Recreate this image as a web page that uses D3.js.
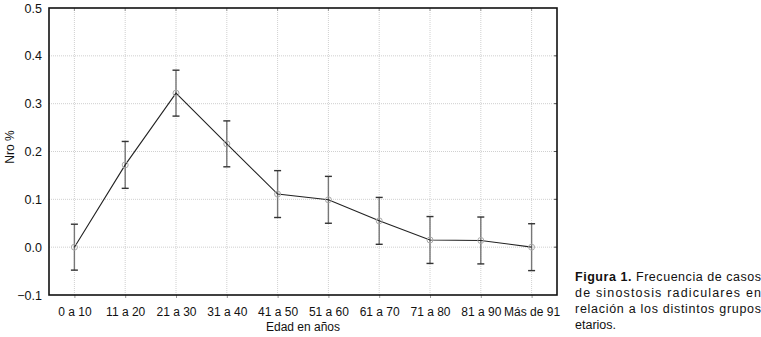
<!DOCTYPE html>
<html>
<head>
<meta charset="utf-8">
<script src="https://cdn.jsdelivr.net/npm/d3@7"></script>
<style>
  body { margin: 0; background: #fff; }
  text { font-family: "Liberation Sans", Arial, sans-serif; fill: #111; }
</style>
</head>
<body>
<div id="chart"></div>
<script>
// age groups and mean frequency with error (+/-)
const groups = ["0 a 10", "11 a 20", "21 a 30", "31 a 40", "41 a 50", "51 a 60", "61 a 70", "71 a 80", "81 a 90", "Más de 91"];
const means = [0.0, 0.172, 0.322, 0.216, 0.111, 0.099, 0.055, 0.015, 0.014, 0.0];
const errs = [0.048, 0.049, 0.048, 0.048, 0.049, 0.049, 0.049, 0.049, 0.049, 0.049];
const yTicks = [-0.1, 0.0, 0.1, 0.2, 0.3, 0.4, 0.5];
const caption = [
    {bold: "Figura 1.", rest: " Frecuencia de casos"},
    {bold: "", rest: "de sinostosis radiculares en"},
    {bold: "", rest: "relación a los distintos grupos"},
    {bold: "", rest: "etarios."}
];

const W = 761, H = 337;
const margin = {top: 8, right: 204, bottom: 42, left: 49};
const width = W - margin.left - margin.right;
const height = H - margin.top - margin.bottom;

const svg = d3.select("#chart").append("svg")
    .attr("width", W)
    .attr("height", H);

const g = svg.append("g")
    .attr("transform", "translate(" + margin.left + "," + margin.top + ")");

const x = d3.scalePoint().domain(groups).range([0, width]).padding(0.5);
const y = d3.scaleLinear().domain([-0.1, 0.5]).range([height, 0]);

// grid
g.append("g").selectAll("line").data(yTicks.slice(1, -1)).enter().append("line")
    .attr("x1", 0).attr("x2", width)
    .attr("y1", d => y(d)).attr("y2", d => y(d))
    .attr("stroke", "#c4c4c4").attr("stroke-width", 0.8).attr("stroke-dasharray", "1,1");
g.append("g").selectAll("line").data(groups).enter().append("line")
    .attr("x1", d => x(d)).attr("x2", d => x(d))
    .attr("y1", 0).attr("y2", height)
    .attr("stroke", "#c4c4c4").attr("stroke-width", 0.8).attr("stroke-dasharray", "1,1");

// axes
const yAxis = g.append("g")
    .call(d3.axisLeft(y).tickValues(yTicks).tickFormat(d3.format(".1f")).tickSize(0).tickPadding(7));
yAxis.select(".domain").remove();
yAxis.selectAll("text").attr("font-size", 12.5).style("fill", "#111");

const xAxis = g.append("g")
    .attr("transform", "translate(0," + height + ")")
    .call(d3.axisBottom(x).tickSize(3).tickPadding(9));
xAxis.select(".domain").remove();
xAxis.selectAll("line").attr("stroke", "#999");
xAxis.selectAll("text").attr("font-size", 12).style("fill", "#111");

// right-side inner ticks
g.append("g").selectAll("line").data(yTicks.slice(1, -1)).enter().append("line")
    .attr("x1", width - 3).attr("x2", width)
    .attr("y1", d => y(d)).attr("y2", d => y(d))
    .attr("stroke", "#555");
// top inner ticks
g.append("g").selectAll("line").data(groups).enter().append("line")
    .attr("x1", d => x(d)).attr("x2", d => x(d))
    .attr("y1", 0).attr("y2", 3)
    .attr("stroke", "#999");

// frame
g.append("rect")
    .attr("width", width).attr("height", height)
    .attr("fill", "none").attr("stroke", "#111").attr("stroke-width", 1.6);

// error bars
const eb = g.append("g").selectAll("g").data(groups).enter().append("g");
eb.append("line")
    .attr("x1", d => x(d)).attr("x2", d => x(d))
    .attr("y1", (d, i) => y(means[i] + errs[i]))
    .attr("y2", (d, i) => y(means[i] - errs[i]))
    .attr("stroke", "#777").attr("stroke-width", 1.4);
eb.append("line")
    .attr("x1", d => x(d) - 3.5).attr("x2", d => x(d) + 3.5)
    .attr("y1", (d, i) => y(means[i] + errs[i]))
    .attr("y2", (d, i) => y(means[i] + errs[i]))
    .attr("stroke", "#333").attr("stroke-width", 1.4);
eb.append("line")
    .attr("x1", d => x(d) - 3.5).attr("x2", d => x(d) + 3.5)
    .attr("y1", (d, i) => y(means[i] - errs[i]))
    .attr("y2", (d, i) => y(means[i] - errs[i]))
    .attr("stroke", "#333").attr("stroke-width", 1.4);

// line
const line = d3.line()
    .x((d, i) => x(groups[i]))
    .y(d => y(d));
g.append("path")
    .datum(means)
    .attr("d", line)
    .attr("fill", "none").attr("stroke", "#222").attr("stroke-width", 1.1);

// points
g.append("g").selectAll("circle").data(means).enter().append("circle")
    .attr("cx", (d, i) => x(groups[i]))
    .attr("cy", d => y(d))
    .attr("r", 3)
    .attr("fill", "none").attr("stroke", "#aaa").attr("stroke-width", 1);

// axis titles
svg.append("text")
    .attr("transform", "translate(14,147) rotate(-90)")
    .attr("text-anchor", "middle")
    .attr("font-size", 12)
    .text("Nro %");
svg.append("text")
    .attr("x", margin.left + width / 2).attr("y", 331)
    .attr("text-anchor", "middle")
    .attr("font-size", 12)
    .text("Edad en años");

// caption
const cap = svg.append("g");
caption.forEach(function (c, i) {
    const t = cap.append("text")
        .attr("x", 575).attr("y", 281 + i * 16)
        .attr("font-size", 12.5)
        .attr("textLength", i < 3 ? 186 : null)
        .attr("lengthAdjust", "spacing");
    if (c.bold) t.append("tspan").attr("font-weight", "bold").text(c.bold);
    t.append("tspan").text(c.rest);
});
</script>
</body>
</html>
